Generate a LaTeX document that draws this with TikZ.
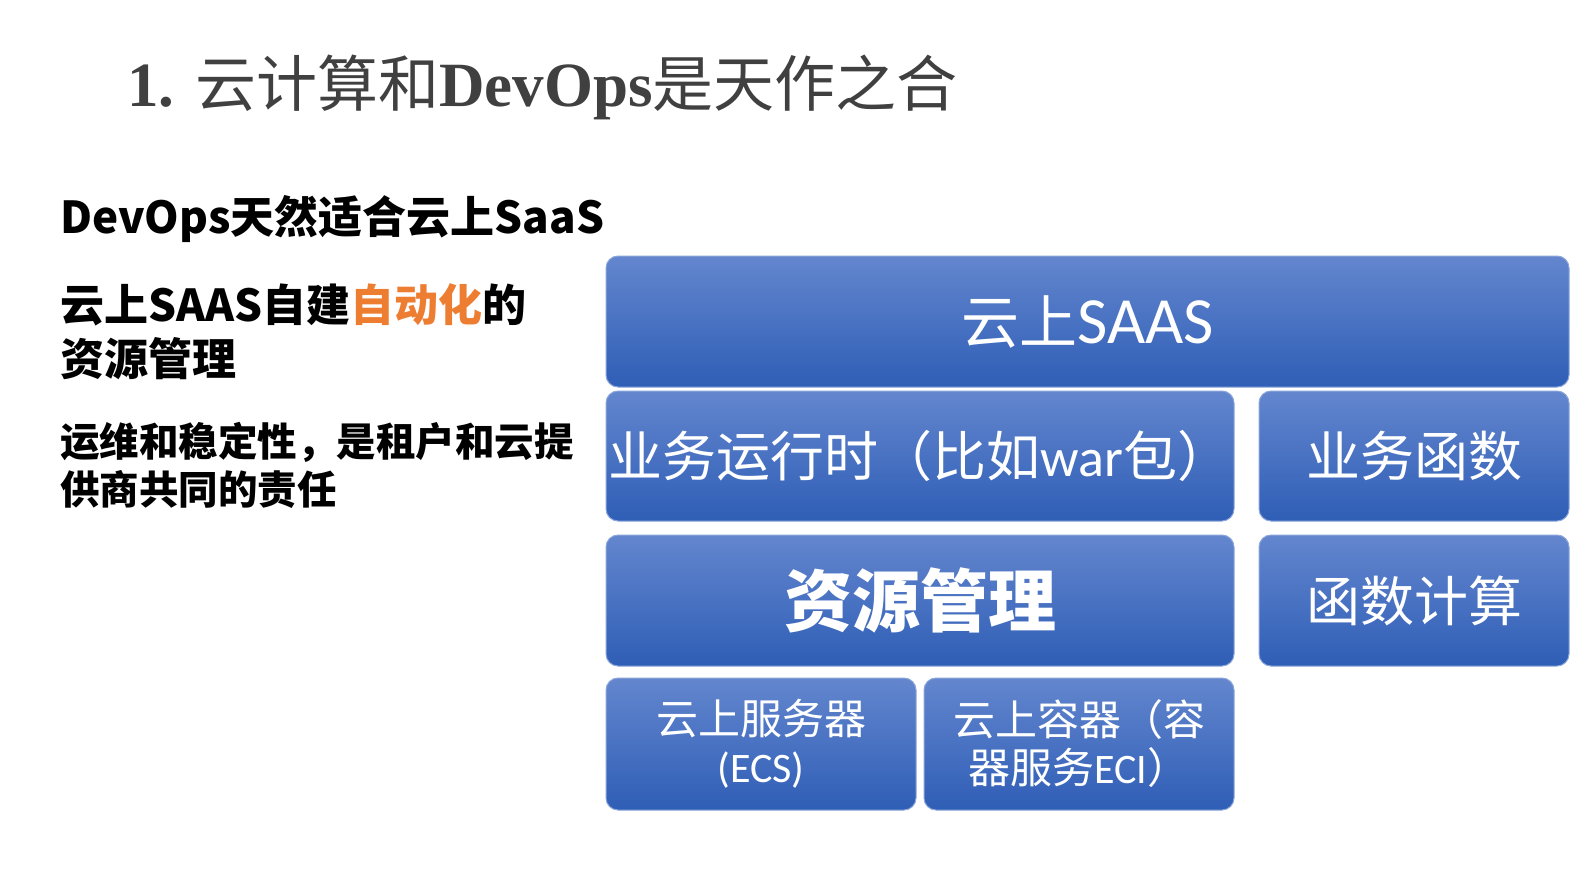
\documentclass[tikz,border=0pt]{standalone}
\usepackage{fontspec}
\setmainfont{Noto Sans CJK SC}
\newfontfamily\carl{Carlito}
\newfontfamily\tser{Liberation Serif}
\definecolor{titlegray}{HTML}{404040}
\definecolor{orng}{HTML}{ED7D31}
\definecolor{btop}{HTML}{6386CE}
\definecolor{bmid}{HTML}{4674C8}
\definecolor{bbot}{HTML}{2F5EB6}
\definecolor{brim}{HTML}{8CA6DA}
\tikzset{
  blk/.style={rounded corners=12pt, top color=btop, middle color=bmid, bottom color=bbot,
    draw=brim, line width=1pt, text=white, inner sep=0pt, align=center},
  lefttxt/.style={anchor=west, inner sep=0pt, align=left, text=black}
}
\begin{document}
\begin{tikzpicture}[x=1pt,y=-1pt]
\useasboundingbox (0,0) rectangle (1587,892);
\fill[white] (0,0) rectangle (1587,892);
% title
\node[anchor=west, inner sep=0pt, text=titlegray, font=\fontsize{61}{70}\selectfont] (title) at (127,87)
  {{\tser\bfseries\fontsize{63}{70}\selectfont 1. }云计算和{\tser\bfseries\fontsize{63}{70}\selectfont DevOps}是天作之合};
% left texts
\node[lefttxt, font=\fontsize{44}{54}\selectfont\bfseries] (l1) at (60,219) {DevOps天然适合云上SaaS};
\node[lefttxt, font=\fontsize{44}{54}\selectfont\bfseries] (l2) at (60,332) {云上SAAS自建{\color{orng}自动化}的\\资源管理};
\node[lefttxt, font=\fontsize{39.5}{48}\selectfont\bfseries] (l3) at (60,465) {运维和稳定性，是租户和云提\\供商共同的责任};
% blocks
\node[blk, minimum width=963pt, minimum height=131pt, font=\fontsize{58}{60}\selectfont] (saas) at (1087.5,321.5)
  {云上{\carl\fontsize{66}{60}\selectfont SAAS}};
\node[blk, minimum width=628pt, minimum height=130pt, font=\fontsize{54}{60}\selectfont] (yw) at (920,456)
  {业务运行时（比如{\carl war}包）};
\node[blk, minimum width=310pt, minimum height=130pt, font=\fontsize{54}{60}\selectfont] (ywhs) at (1414,456)
  {业务函数};
\node[blk, minimum width=628pt, minimum height=131pt, font=\fontsize{68}{70}\selectfont\bfseries] (zy) at (920,600.5)
  {资源管理};
\node[blk, minimum width=310pt, minimum height=131pt, font=\fontsize{54}{60}\selectfont] (hsjs) at (1414,600.5)
  {函数计算};
\node[blk, minimum width=310pt, minimum height=132pt, font=\fontsize{42}{48}\selectfont] (ecs) at (761,744)
  {云上服务器\\{\carl (ECS)}};
\node[blk, minimum width=310pt, minimum height=132pt, font=\fontsize{42}{48}\selectfont] (eci) at (1079,744)
  {云上容器（容\\器服务{\carl ECI}）};
\end{tikzpicture}
\end{document}
